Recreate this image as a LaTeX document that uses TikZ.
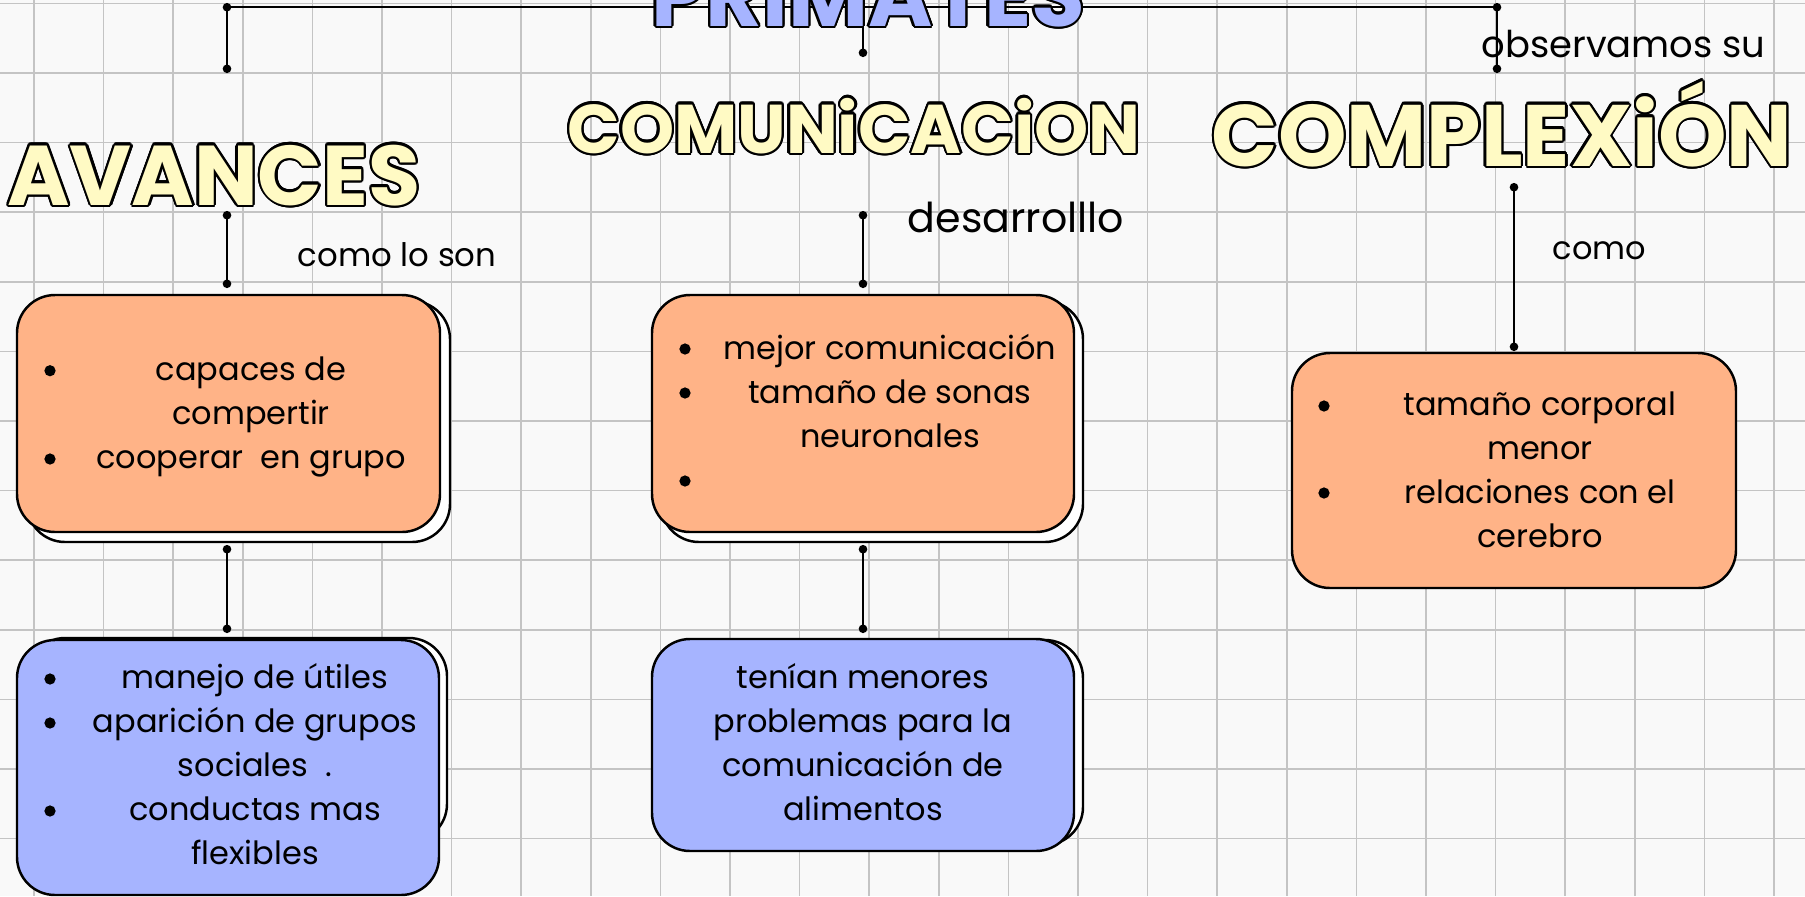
\documentclass[tikz,border=0pt]{standalone}
\usepackage{fontspec}
\setmainfont{Poppins}
\usepackage{contour}
\contourlength{0.65pt}
\usetikzlibrary{arrows.meta}
\definecolor{papel}{HTML}{F9F9F9}
\definecolor{rejilla}{HTML}{C4C4C4}
\definecolor{naranja}{HTML}{FFB387}
\definecolor{azul}{HTML}{A6B4FF}
\definecolor{crema}{HTML}{FFFAC4}
\newdimen\unitpx \unitpx=0.01cm

\begin{document}
\begin{tikzpicture}[x=0.01cm,y=-0.01cm,
    caja/.style={draw,line width=0.7pt,rounded corners=0.38cm,inner sep=0pt},
    texto/.style={align=center,inner sep=0pt,anchor=base,font=\fontsize{9.1}{12.5}\selectfont},
    etiqueta/.style={anchor=base west,inner sep=0pt},
    titulo/.style={anchor=base,inner sep=0pt,text=crema},
    enlace/.style={line width=0.7pt,{Circle[length=2.4pt]}-{Circle[length=2.4pt]}}]
    \useasboundingbox (0,0) rectangle (1805,896);
    \fill[papel] (0,0) rectangle (1805,896);
    % cuadricula
    \foreach \k in {0,...,25}
      \draw[rejilla,line width=0.45pt] (34+69.6*\k,0) -- (34+69.6*\k,896);
    \foreach \k in {0,...,12}
      \draw[rejilla,line width=0.45pt] (0,3.3+69.6*\k) -- (1805,3.3+69.6*\k);

    % enlaces
    \coordinate (h1) at (227,7);
    \coordinate (h2) at (1497,7);
    \coordinate (a1) at (227,3);
    \coordinate (a2) at (227,73);
    \coordinate (c1) at (1497,3);
    \coordinate (c2) at (1497,73);
    \coordinate (m1) at (863,20);
    \coordinate (m2) at (863,57);
    \coordinate (av1) at (227,211);
    \coordinate (av2) at (227,288);
    \coordinate (cm1) at (863,211);
    \coordinate (cm2) at (863,288);
    \coordinate (cx1) at (1514,183);
    \coordinate (cx2) at (1514,351);
    \coordinate (av3) at (227,545);
    \coordinate (av4) at (227,633);
    \coordinate (cm3) at (863,545);
    \coordinate (cm4) at (863,633);
    \draw[line width=0.7pt] (h1) -- (h2);
    \draw[enlace] (a1) -- (a2);
    \draw[enlace] (c1) -- (c2);
    \draw[line width=0.7pt,-{Circle[length=2.4pt]}] (m1) -- (m2);
    \draw[enlace] (av1) -- (av2);
    \draw[enlace] (cm1) -- (cm2);
    \draw[enlace] (cx1) -- (cx2);
    \draw[enlace] (av3) -- (av4);
    \draw[enlace] (cm3) -- (cm4);

    % titulos
    \node[titulo,text=azul,font=\fontsize{24.8}{25}\selectfont\bfseries] (prim) at (868,26) {\contour{black}{PRIMATES}};
    \node[titulo,font=\fontsize{24.1}{24}\selectfont\bfseries] (avan) at (214,205) {\contour{black}{AVANCES}};
    \node[titulo,font=\fontsize{19.6}{20}\selectfont\bfseries] (comu) at (854,153) {\contour{black}{COMUNiCACiON}};
    \node[titulo,font=\fontsize{24.8}{25}\selectfont\bfseries] (comp) at (1502,166) {\contour{black}{COMPLEXiÓN}};

    \node[etiqueta,font=\fontsize{9.2}{11}\selectfont] (son) at (297,266) {como lo son};
    \node[etiqueta,font=\fontsize{11.7}{14}\selectfont] (des) at (907,232) {desarrolllo};
    \node[etiqueta,font=\fontsize{10.5}{13}\selectfont] (obs) at (1481,57) {observamos su};
    \node[etiqueta,font=\fontsize{9.1}{11}\selectfont] (como) at (1552,259) {como};

    % cajas
    \node[caja,fill=white,minimum width=423\unitpx,minimum height=241\unitpx] (avos) at (238.5,421.5) {};
    \node[caja,fill=naranja,minimum width=423\unitpx,minimum height=237\unitpx] (avo) at (228.5,413.5) {};
    \node[caja,fill=white,minimum width=422\unitpx,minimum height=241\unitpx] (cmos) at (872,421.5) {};
    \node[caja,fill=naranja,minimum width=422\unitpx,minimum height=237\unitpx] (cmo) at (863,413.5) {};
    \node[caja,fill=naranja,minimum width=444\unitpx,minimum height=235\unitpx] (cxo) at (1514,470.5) {};
    \node[caja,fill=white,minimum width=420\unitpx,minimum height=204\unitpx] (avbs) at (237,740) {};
    \node[caja,fill=azul,minimum width=422\unitpx,minimum height=255\unitpx] (avb) at (228,767.5) {};
    \node[caja,fill=white,minimum width=422\unitpx,minimum height=205\unitpx] (cmbs) at (872,742.5) {};
    \node[caja,fill=azul,minimum width=422\unitpx,minimum height=212\unitpx] (cmb) at (863,745) {};

    % el ancla base es la ultima linea
    \node[texto] (avot) at (251,468) {capaces de\\compertir\\cooperar \ en grupo};
    \node[texto] (cmot) at (890,447) {mejor comunicación\\tamaño de sonas\\neuronales};
    \node[texto] (cxot) at (1540,547) {tamaño corporal\\menor\\relaciones con el\\cerebro};
    \node[texto] (avbt) at (255,864) {manejo de útiles\\aparición de grupos\\sociales \ .\\conductas mas\\flexibles};
    \node[texto] (cmbt) at (863,820) {tenían menores\\problemas para la\\comunicación de\\alimentos};

    % vinetas
    \foreach \y in {370.7,459} \fill (50,\y) circle[radius=1.6pt];
    \foreach \y in {349,393,481} \fill (685,\y) circle[radius=1.6pt];
    \foreach \y in {406,493} \fill (1324,\y) circle[radius=1.6pt];
    \foreach \y in {679,723,811} \fill (50,\y) circle[radius=1.6pt];
\end{tikzpicture}
\end{document}
